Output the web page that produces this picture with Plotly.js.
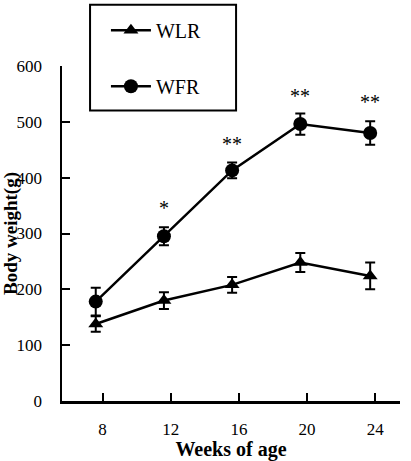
<!DOCTYPE html>
<html>
<head>
<meta charset="utf-8">
<script src="https://cdn.plot.ly/plotly-3.0.1.min.js"></script>
<style>html,body{margin:0;padding:0;background:#fff;}#chart{width:411px;height:461px;}</style>
</head>
<body>
<div id="chart"></div>
<script>
// Data
var weeks = [7.6, 11.6, 15.6, 19.6, 23.7];
var wlrWeight = [138, 180, 208, 248, 224];
var wlrErr = [14, 15, 14, 17, 24];
var wfrWeight = [178, 295, 413, 496, 480];
var wfrErr = [25, 16, 14, 19, 21];
var sigWeeks = [11.6, 15.6, 19.6, 23.7];
var sigLabels = ['*', '**', '**', '**'];
var sigY = [345, 460, 546, 536];
var xTicks = [8, 12, 16, 20, 24];
var yTicks = [0, 100, 200, 300, 400, 500, 600];

var serif = '"Liberation Serif", "Times New Roman", Times, serif';

var traces = [
  {
    x: weeks, y: wlrWeight, name: 'WLR', type: 'scatter', mode: 'lines+markers',
    legendgroup: 'a',
    line: {color: '#000', width: 2.5},
    marker: {symbol: 'triangle-up', size: 13, color: '#000'},
    error_y: {type: 'data', array: wlrErr, visible: true, color: '#000', thickness: 2, width: 5}
  },
  {
    x: weeks, y: wfrWeight, name: 'WFR', type: 'scatter', mode: 'lines+markers',
    legendgroup: 'b',
    line: {color: '#000', width: 2.5},
    marker: {symbol: 'circle', size: 14, color: '#000'},
    error_y: {type: 'data', array: wfrErr, visible: true, color: '#000', thickness: 2, width: 5}
  }
];

var annotations = sigWeeks.map(function (w, i) {
  return {x: w, y: sigY[i], xref: 'x', yref: 'y', text: sigLabels[i], showarrow: false,
    font: {family: serif, size: 20, color: '#000'}};
});

var layout = {
  width: 411, height: 461,
  margin: {l: 62, r: 11, t: 63, b: 60},
  paper_bgcolor: '#fff', plot_bgcolor: '#fff',
  font: {family: serif, color: '#000', size: 17},
  showlegend: true,
  legend: {
    x: 0.13, y: 1.165, xanchor: 'left', yanchor: 'top',
    bgcolor: 'rgba(0,0,0,0)', borderwidth: 0,
    tracegroupgap: 27, itemwidth: 40,
    font: {family: serif, size: 20, color: '#000'}
  },
  xaxis: {
    range: [5.62, 25.45], tickvals: xTicks, ticktext: xTicks.map(String),
    showgrid: false, zeroline: false, showline: true, linecolor: '#000', linewidth: 2.5,
    ticks: 'inside', ticklen: 8, tickwidth: 2, tickcolor: '#000',
    ticklabelstandoff: 11,
    tickfont: {family: serif, size: 17, color: '#000'},
    title: {text: 'Weeks of age', font: {family: serif, size: 20, color: '#000', weight: 'bold'}, standoff: 0}
  },
  yaxis: {
    range: [0, 600], tickvals: yTicks, ticktext: yTicks.map(String),
    showgrid: false, zeroline: false, showline: true, linecolor: '#000', linewidth: 2.5,
    ticks: 'inside', ticklen: 8, tickwidth: 2, tickcolor: '#000',
    ticklabelstandoff: 14,
    tickfont: {family: serif, size: 17, color: '#000'},
    title: {text: 'Body weight(g)', font: {family: serif, size: 19, color: '#000', weight: 'bold'}, standoff: 7}
  },
  shapes: [
    {type: 'rect', xref: 'paper', yref: 'paper', x0: 0.083, x1: 0.515, y0: 0.867, y1: 1.183,
      line: {color: '#000', width: 2}, fillcolor: 'rgba(0,0,0,0)'}
  ],
  annotations: annotations
};

Plotly.newPlot('chart', traces, layout, {displayModeBar: false, staticPlot: true});
</script>
</body>
</html>
